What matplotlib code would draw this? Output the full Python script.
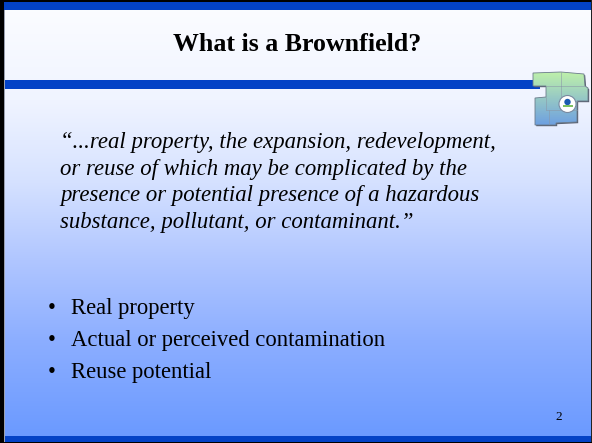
import numpy as np
import matplotlib
matplotlib.use("Agg")
import matplotlib.pyplot as plt
from matplotlib.patches import Rectangle, Polygon, Circle

# ---- content ----
title = "What is a Brownfield?"
quote_lines = [
    "\u201c...real property, the expansion, redevelopment,",
    "or reuse of which may be complicated by the",
    "presence or potential presence of a hazardous",
    "substance, pollutant, or contaminant.\u201d",
]
bullets = ["Real property", "Actual or perceived contamination", "Reuse potential"]
page_number = "2"

W, H = 592, 443
fig = plt.figure(figsize=(W / 100, H / 100), dpi=100)
ax = fig.add_axes([0, 0, 1, 1])
ax.set_xlim(0, W)
ax.set_ylim(H, 0)
ax.axis("off")

# background vertical gradient
stops_y = np.array([0, 100, 180, 260, 340, 443])
stops_c = np.array([
    [252, 253, 255],
    [240, 244, 255],
    [214, 226, 255],
    [176, 198, 255],
    [140, 174, 255],
    [104, 152, 255],
]) / 255.0
ys = np.arange(H)
grad = np.stack([np.interp(ys, stops_y, stops_c[:, k]) for k in range(3)], axis=1)
img = np.repeat(grad[:, None, :], 2, axis=1)
ax.imshow(img, extent=[0, W, H, 0], aspect="auto", zorder=0, interpolation="bilinear")

blue = "#0342C6"
# bands
ax.add_patch(Rectangle((0, 1.5), W, 8.5, color=blue, zorder=2, lw=0))
ax.add_patch(Rectangle((0, 80), 540, 8.5, color=blue, zorder=2, lw=0))
ax.add_patch(Rectangle((0, 435.5), W, 6.5, color=blue, zorder=2, lw=0))
# outer border
ax.add_patch(Rectangle((0, 0), W, 1.5, color="black", zorder=5, lw=0))
ax.add_patch(Rectangle((0, 0), 3.5, H, color="black", zorder=5, lw=0))
ax.add_patch(Rectangle((3.5, 10), 1.0, H - 10, color="#9aa0b0", zorder=5, lw=0))
ax.add_patch(Rectangle((W - 1.5, 0), 1.5, H, color="#222222", zorder=5, lw=0))
ax.add_patch(Rectangle((0, H - 1.2), W, 1.2, color="black", zorder=5, lw=0))

renderer = fig.canvas.get_renderer()


def fit_text(x, y, s, target_w, **kw):
    t = ax.text(x, y, s, fontsize=16, zorder=6, **kw)
    w = t.get_window_extent(renderer=renderer).width
    t.set_fontsize(16 * target_w / w)
    return t


serif = "Liberation Serif"
# title
fit_text(297.5, 51, title, 249, ha="center", va="baseline", family=serif,
         fontweight="bold", color="black")

# quote
qt = fit_text(60, 148, quote_lines[0], 435, ha="left", va="baseline", family=serif,
              style="italic", color="black")
qfs = qt.get_fontsize()
for i, line in enumerate(quote_lines[1:], start=1):
    ax.text(60, 148 + 26.5 * i, line, fontsize=qfs, ha="left", va="baseline",
            family=serif, style="italic", color="black", zorder=6)

# bullets
bt = fit_text(71, 314, bullets[0], 124, ha="left", va="baseline", family=serif, color="black")
bfs = bt.get_fontsize()
for i, b in enumerate(bullets):
    y = 314 + 32 * i
    if i > 0:
        ax.text(71, y, b, fontsize=bfs, ha="left", va="baseline", family=serif,
                color="black", zorder=6)
    ax.text(52, y, "\u2022", fontsize=bfs, ha="center", va="baseline", family=serif,
            color="black", zorder=6)

# page number
ax.text(558.5, 419.5, page_number, fontsize=9.5, ha="center", va="baseline",
        family=serif, color="black", zorder=6)

# logo: simplified region map
outline = [(533, 73), (561, 72), (584, 74), (585, 86), (588, 88), (588, 101),
           (577, 101), (577, 122), (556, 123), (556, 125), (535, 125), (535, 98),
           (546, 97), (546, 86), (533, 86)]
shadow = Polygon([(x + 1.2, y + 1.2) for x, y in outline], closed=True,
                 facecolor="#5a6070", edgecolor="none", zorder=7)
ax.add_patch(shadow)
poly = Polygon(outline, closed=True, facecolor="none", edgecolor="#6a7a8a", lw=0.6, zorder=9)
ax.add_patch(poly)
ly = np.linspace(0, 1, 60)
top_c = np.array([190, 240, 170]) / 255
bot_c = np.array([110, 160, 225]) / 255
lg = top_c[None, :] * (1 - ly[:, None]) + bot_c[None, :] * ly[:, None]
lg = np.repeat(lg[:, None, :], 2, axis=1)
im = ax.imshow(lg, extent=[533, 588, 125, 72], aspect="auto", zorder=8,
               interpolation="bilinear")
im.set_clip_path(poly)
for seg in [[(561, 72), (561, 86)], [(546, 86), (585, 86)], [(561, 86), (561, 101)],
            [(546, 97), (546, 110)], [(546, 110), (577, 110)],
            [(549, 110), (549, 124)], [(561, 101), (577, 101)]]:
    ax.plot(*zip(*seg), color="#8a98a8", lw=0.4, zorder=9)
ax.add_patch(Circle((567.5, 104), 8.5, facecolor="white", edgecolor="#7a8aa0", lw=0.8, zorder=10))
ax.add_patch(Circle((567.5, 102), 3.2, facecolor="#1a5ab0", edgecolor="none", zorder=11))
ax.add_patch(Rectangle((562.5, 105), 10, 2.2, facecolor="#7cc060", edgecolor="none", zorder=11))

fig.savefig("out.png", dpi=100)
